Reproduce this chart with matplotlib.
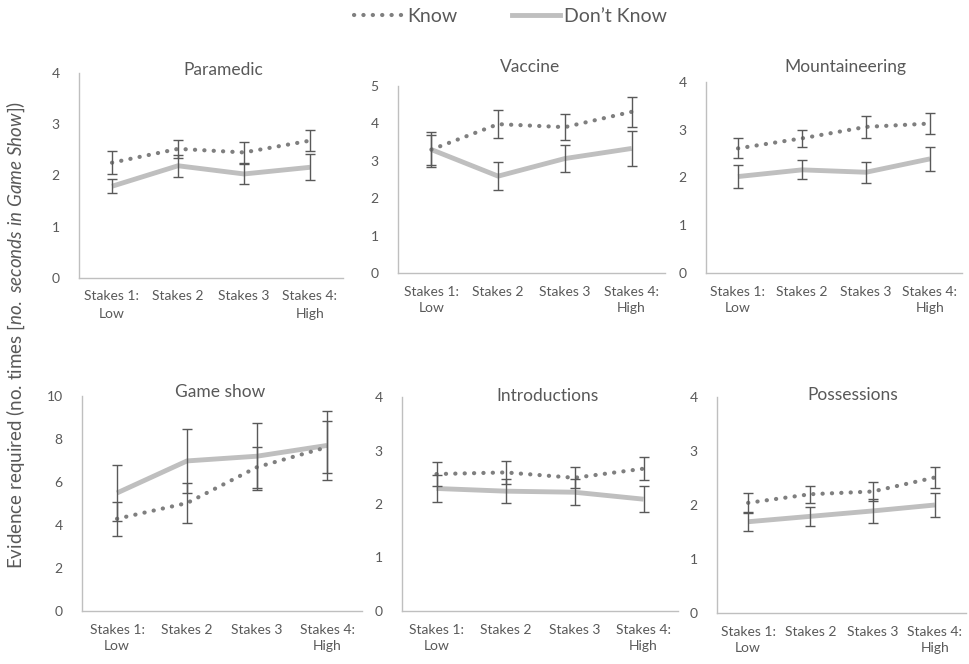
import matplotlib
matplotlib.use("Agg")
import matplotlib.pyplot as plt
from matplotlib.lines import Line2D
import numpy as np

plt.rcParams["font.family"] = ["Lato", "DejaVu Sans"]
plt.rcParams["mathtext.fontset"] = "custom"
plt.rcParams["mathtext.it"] = "Lato:italic"
plt.rcParams["mathtext.rm"] = "Lato"

###############################################################
# Data
#
stakes = ["Stakes 1:\nLow", "Stakes 2", "Stakes 3", "Stakes 4:\nHigh"]
panels = ["Paramedic", "Vaccine", "Mountaineering", "Game show", "Introductions", "Possessions"]

know_paramedic = [2.25, 2.52, 2.45, 2.68]
know_paramedic_err = [0.22, 0.17, 0.21, 0.20]
dk_paramedic = [1.79, 2.19, 2.03, 2.16]
dk_paramedic_err = [0.14, 0.21, 0.20, 0.25]

know_vaccine = [3.30, 3.98, 3.90, 4.31]
know_vaccine_err = [0.40, 0.37, 0.35, 0.40]
dk_vaccine = [3.30, 2.59, 3.06, 3.33]
dk_vaccine_err = [0.47, 0.38, 0.37, 0.48]

know_mountain = [2.61, 2.82, 3.06, 3.13]
know_mountain_err = [0.21, 0.18, 0.23, 0.22]
dk_mountain = [2.02, 2.16, 2.11, 2.39]
dk_mountain_err = [0.25, 0.20, 0.22, 0.25]

know_gameshow = [4.29, 5.02, 6.69, 7.62]
know_gameshow_err = [0.80, 0.93, 0.95, 1.20]
dk_gameshow = [5.49, 6.98, 7.20, 7.70]
dk_gameshow_err = [1.30, 1.47, 1.55, 1.60]

know_intro = [2.56, 2.59, 2.49, 2.66]
know_intro_err = [0.22, 0.22, 0.20, 0.22]
dk_intro = [2.29, 2.24, 2.22, 2.09]
dk_intro_err = [0.25, 0.23, 0.24, 0.24]

know_poss = [2.04, 2.20, 2.25, 2.51]
know_poss_err = [0.18, 0.16, 0.17, 0.20]
dk_poss = [1.69, 1.79, 1.89, 2.00]
dk_poss_err = [0.18, 0.17, 0.22, 0.23]

y_max = [4, 5, 4, 10, 4, 4]
y_step = [1, 1, 1, 2, 1, 1]

###############################################################
# Styles / layout (pixel based, figure 969x664)
#
W, H = 969, 664
text_col = "#595959"
know_col = "#7f7f7f"
dk_col = "#bfbfbf"
err_col = "#595959"
axis_col = "#bfbfbf"

# left, right, y of 0, y of top (pixels)
boxes = [
    (79, 343, 278, 73),
    (398, 665, 273, 86),
    (706, 962, 273, 82),
    (82, 362, 611, 396),
    (402, 678, 611, 397),
    (717, 966, 613, 397),
]
title_pos = [(223, 70), (530, 67), (845, 67), (220, 392), (548, 396), (853, 395)]

know_all = [know_paramedic, know_vaccine, know_mountain, know_gameshow, know_intro, know_poss]
know_err_all = [know_paramedic_err, know_vaccine_err, know_mountain_err,
                know_gameshow_err, know_intro_err, know_poss_err]
dk_all = [dk_paramedic, dk_vaccine, dk_mountain, dk_gameshow, dk_intro, dk_poss]
dk_err_all = [dk_paramedic_err, dk_vaccine_err, dk_mountain_err,
              dk_gameshow_err, dk_intro_err, dk_poss_err]

fig = plt.figure(figsize=(W / 100, H / 100), dpi=100)

dotted = (0, (0.05, 2.2))
x = np.arange(len(stakes))

for i, name in enumerate(panels):
    l, r, y0, yt = boxes[i]
    ax = fig.add_axes([l / W, 1 - y0 / H, (r - l) / W, (y0 - yt) / H])

    ax.plot(x, dk_all[i], color=dk_col, lw=3.5, solid_capstyle="butt", zorder=2)
    ax.plot(x, know_all[i], color=know_col, lw=3, linestyle=dotted,
            dash_capstyle="round", zorder=3)
    ax.errorbar(x, know_all[i], yerr=know_err_all[i], fmt="none", ecolor=err_col,
                elinewidth=1, capsize=3.5, capthick=1, zorder=4)
    ax.errorbar(x, dk_all[i], yerr=dk_err_all[i], fmt="none", ecolor=err_col,
                elinewidth=1, capsize=3.5, capthick=1, zorder=4)

    ax.set_xlim(-0.5, len(stakes) - 0.5)
    ax.set_ylim(0, y_max[i])
    ax.set_yticks(np.arange(0, y_max[i] + 0.01, y_step[i]))
    ax.set_xticks(x)
    ax.set_xticklabels(stakes, fontsize=10, color=text_col, linespacing=1.5)
    ax.tick_params(axis="both", length=0, labelcolor=text_col, labelsize=10)
    ax.tick_params(axis="y", pad=14)
    ax.tick_params(axis="x", pad=9)
    for s in ["top", "right"]:
        ax.spines[s].set_visible(False)
    for s in ["left", "bottom"]:
        ax.spines[s].set_color(axis_col)
        ax.spines[s].set_linewidth(1)
    ax.patch.set_alpha(0)

    tx, ty = title_pos[i]
    fig.text(tx / W, 1 - ty / H, name, ha="center", va="center", fontsize=12.5, color=text_col)

fig.text(16 / W, 1 - 335 / H,
         r"Evidence required (no. times $\it{[no.\ seconds\ in\ Game\ Show])}$",
         rotation=90, ha="center", va="center", fontsize=13.5, color=text_col)

handles = [
    Line2D([], [], color=know_col, lw=3, linestyle=dotted, dash_capstyle="round"),
    Line2D([], [], color=dk_col, lw=3.5),
]
fig.legend(handles, ["Know", "Don\u2019t Know"], loc="center", bbox_to_anchor=(0.527, 1 - 16 / H),
           ncol=2, frameon=False, fontsize=14, labelcolor=text_col, handlelength=2.5,
           handletextpad=0.2, columnspacing=2.8)

fig.savefig("out.png", dpi=100)
